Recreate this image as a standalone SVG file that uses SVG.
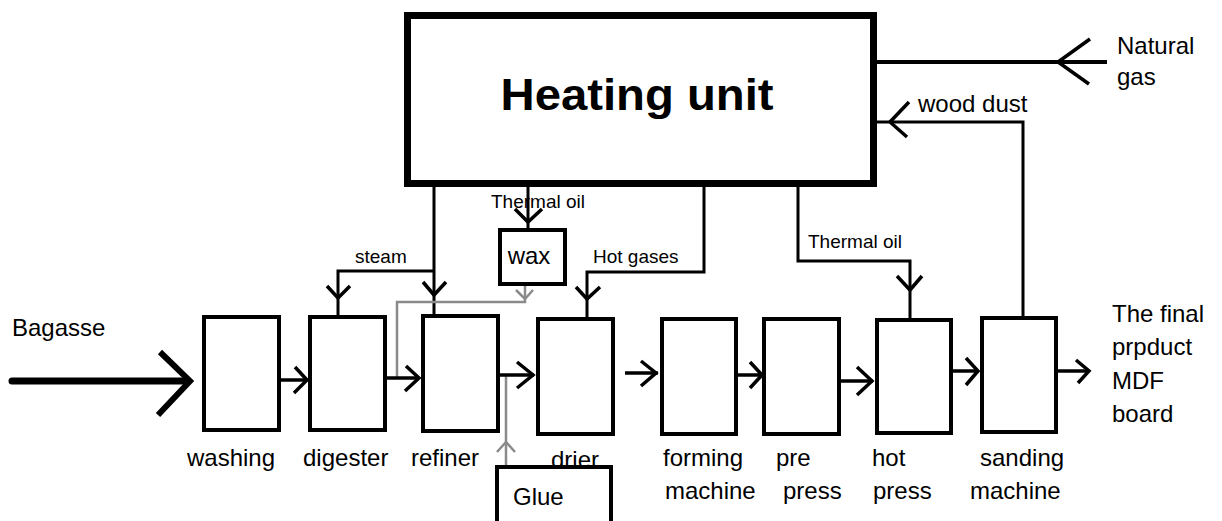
<svg xmlns="http://www.w3.org/2000/svg" width="1222" height="521" viewBox="0 0 1222 521">
<style>
.box{fill:#fff;stroke:#000;stroke-width:4}
.ln{fill:none;stroke:#000;stroke-width:3}
.flow{fill:none;stroke:#000;stroke-width:3.5}
.head{fill:none;stroke:#000;stroke-width:3.5;stroke-linejoin:miter}
.gray{fill:none;stroke:#8a8a8a;stroke-width:2.5}
.lbl{font-family:"Liberation Sans",Arial,sans-serif;font-size:24px;fill:#000}
.sm{font-family:"Liberation Sans",Arial,sans-serif;font-size:19px;fill:#000}
</style>
<rect width="1222" height="521" fill="#fff"/>
<g id="connectors">
<!-- natural gas -->
<path class="ln" style="stroke-width:4" d="M877 62 H1107"/>
<path class="head" d="M1090 39 L1058 62 L1089 84"/>
<!-- wood dust -->
<path class="ln" d="M877 122 H1023 V316"/>
<path class="head" d="M909 102 L890 122 L907 137"/>
<!-- steam -->
<path class="ln" d="M434 187 V314 M434 271 H338 V315"/>
<path class="head" d="M423 282 L434 295 L446 282"/>
<path class="head" d="M327 286 L338 298 L350 286"/>
<!-- thermal oil to wax -->
<path class="ln" d="M528 187 V228"/>
<path class="head" d="M515 209 L528 222 L542 209"/>
<!-- hot gases -->
<path class="ln" d="M704 187 V272 H587 V317"/>
<path class="head" d="M576 287 L587 299 L600 287"/>
<!-- thermal oil to hot press -->
<path class="ln" d="M798 187 V261 H910 V318"/>
<path class="head" d="M897 276 L910 290 L922 276"/>
<!-- gray wax and glue -->
<path class="gray" d="M525 286 V302 H397 V378"/>
<path class="gray" d="M516 290 L525 299 L533 290"/>
<path class="gray" d="M506 467 V375"/>
<path class="gray" d="M497 452 L506 442 L515 452"/>
<!-- main flow -->
<path class="flow" style="stroke-width:7;stroke-linecap:round" d="M12 381 H188"/>
<path class="head" style="stroke-width:6" d="M160 352 L190 381 L158 415"/>
<path class="flow" d="M281 380 H306"/>
<path class="head" d="M295 367 L307 380 L294 393"/>
<path class="flow" d="M387 378 H419"/>
<path class="head" d="M406 366 L419 378 L405 391"/>
<path class="flow" d="M500 375 H534"/>
<path class="head" d="M517 362 L533 375 L517 388"/>
<path class="flow" d="M625 373 H658"/>
<path class="head" d="M641 361 L656 373 L641 386"/>
<path class="flow" d="M734 375 H760"/>
<path class="head" d="M750 362 L762 375 L750 388"/>
<path class="flow" d="M841 381 H873"/>
<path class="head" d="M857 367 L872 381 L857 395"/>
<path class="flow" d="M949 371 H978"/>
<path class="head" d="M966 358 L978 371 L966 385"/>
<path class="flow" d="M1058 371 H1088"/>
<path class="head" d="M1076 360 L1089 371 L1078 383"/>
</g>
<g id="heating">
<rect x="407.5" y="15.5" width="466" height="168" fill="#fff" stroke="#000" stroke-width="7"/>
<text x="637" y="110" text-anchor="middle" font-family="'Liberation Sans',Arial,sans-serif" font-size="44" font-weight="bold" textLength="273" lengthAdjust="spacingAndGlyphs">Heating unit</text>
</g>
<g id="labels-in">
<text class="lbl" x="1117" y="54">Natural</text>
<text class="lbl" x="1117" y="85">gas</text>
<text class="lbl" x="918" y="112">wood dust</text>
<text class="sm" x="355" y="263">steam</text>
<text class="sm" x="491" y="208">Thermal oil</text>
<text class="sm" x="593" y="263">Hot gases</text>
<text class="sm" x="808" y="248">Thermal oil</text>
<text class="lbl" x="12" y="336">Bagasse</text>
</g>
<g id="wax">
<rect class="box" x="500" y="230" width="65" height="54"/>
<text class="lbl" x="529" y="264" text-anchor="middle">wax</text>
</g>
<g id="washing">
<rect class="box" x="204" y="317" width="75" height="113"/>
<text class="lbl" x="187" y="466">washing</text>
</g>
<g id="digester">
<rect class="box" x="310" y="317" width="75" height="113"/>
<text class="lbl" x="303" y="466">digester</text>
</g>
<g id="refiner">
<rect class="box" x="423" y="316" width="75" height="115"/>
<text class="lbl" x="411" y="466">refiner</text>
</g>
<g id="drier">
<rect class="box" x="538" y="319" width="75" height="115"/>
<text class="lbl" x="551" y="468">drier</text>
</g>
<g id="forming">
<rect class="box" x="662" y="319" width="74" height="115"/>
<text class="lbl" x="663" y="466">forming</text>
<text class="lbl" x="665" y="499">machine</text>
</g>
<g id="prepress">
<rect class="box" x="764" y="319" width="75" height="115"/>
<text class="lbl" x="776" y="466">pre</text>
<text class="lbl" x="783" y="499">press</text>
</g>
<g id="hotpress">
<rect class="box" x="877" y="320" width="74" height="113"/>
<text class="lbl" x="872" y="466">hot</text>
<text class="lbl" x="873" y="499">press</text>
</g>
<g id="sanding">
<rect class="box" x="982" y="318" width="74" height="114"/>
<text class="lbl" x="980" y="466">sanding</text>
<text class="lbl" x="970" y="499">machine</text>
</g>
<g id="product">
<text class="lbl" x="1112" y="322">The final</text>
<text class="lbl" x="1112" y="355">prpduct</text>
<text class="lbl" x="1112" y="389">MDF</text>
<text class="lbl" x="1112" y="422">board</text>
</g>
<g id="glue">
<rect class="box" x="497" y="467" width="114" height="62"/>
<text class="lbl" x="513" y="505">Glue</text>
</g>
</svg>
